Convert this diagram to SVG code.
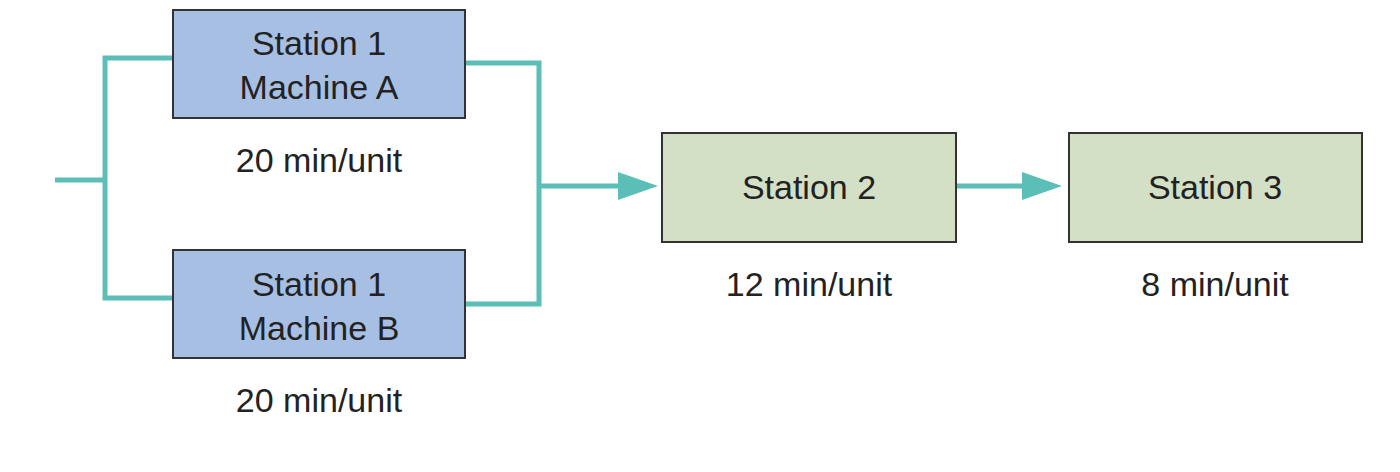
<svg xmlns="http://www.w3.org/2000/svg" width="1400" height="472" viewBox="0 0 1400 472">
<defs>
<style>
.blue{fill:#a7bfe2;stroke:#333;stroke-width:2}
.green{fill:#d3e0c6;stroke:#333;stroke-width:2}
.t{font-family:"Liberation Sans",Arial,sans-serif;font-size:34px;fill:#222;text-anchor:middle}
.c{fill:none;stroke:#5bbfb8;stroke-width:5}
</style>
<marker id="ah" markerWidth="10" markerHeight="10" refX="9" refY="5" orient="auto" markerUnits="userSpaceOnUse" viewBox="0 0 10 10"><path d="M0,0L10,5L0,10z" fill="#5bbfb8"/></marker>
</defs>
<rect width="1400" height="472" fill="#fff"/>
<g id="connectors">
<path class="c" d="M55,180H105V58H172M105,180V298H172"/>
<path class="c" d="M466,63H539V304H466M539,186H620"/>
<path d="M618,172L658,186L618,200z" fill="#5bbfb8"/>
<path class="c" d="M956,186H1025"/>
<path d="M1022,172L1062,186L1022,200z" fill="#5bbfb8"/>
</g>
<g id="a"><rect class="blue" x="173" y="10" width="292" height="108"/><text class="t" x="319" y="55">Station 1</text><text class="t" x="319" y="99">Machine A</text><text class="t" x="319" y="172">20 min/unit</text></g>
<g id="b"><rect class="blue" x="173" y="250" width="292" height="108"/><text class="t" x="319" y="296">Station 1</text><text class="t" x="319" y="340">Machine B</text><text class="t" x="319" y="412">20 min/unit</text></g>
<g id="s2"><rect class="green" x="662" y="133" width="294" height="109"/><text class="t" x="809" y="199">Station 2</text><text class="t" x="809" y="296">12 min/unit</text></g>
<g id="s3"><rect class="green" x="1069" y="133" width="293" height="109"/><text class="t" x="1215" y="199">Station 3</text><text class="t" x="1215" y="296">8 min/unit</text></g>
</svg>
